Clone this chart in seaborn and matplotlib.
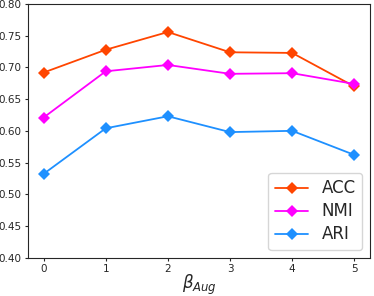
import matplotlib
matplotlib.use("Agg")
import matplotlib.pyplot as plt
import seaborn as sns
import pandas as pd

beta = [0, 1, 2, 3, 4, 5]
acc = [0.692, 0.728, 0.756, 0.724, 0.723, 0.670]
nmi = [0.621, 0.694, 0.704, 0.690, 0.691, 0.674]
ari = [0.532, 0.604, 0.623, 0.598, 0.600, 0.562]
metrics = ["ACC", "NMI", "ARI"]
colors = ["#FF4500", "#FF00FF", "#1E90FF"]

df = pd.DataFrame({
    "beta": beta * 3,
    "value": acc + nmi + ari,
    "metric": [m for m in metrics for _ in beta],
})

sns.set_style("ticks")
plt.rcParams["font.family"] = ["DejaVu Sans"]

fig = plt.figure(figsize=(3.74, 2.96), dpi=100)
ax = fig.add_axes([0.075, 0.13, 0.914, 0.856])

sns.lineplot(data=df, x="beta", y="value", hue="metric", style="metric",
             palette=dict(zip(metrics, colors)), markers=["D", "D", "D"],
             dashes=False, markersize=6.5, markeredgewidth=0, linewidth=1.3, ax=ax)

ax.set_ylim(0.40, 0.80)
ax.set_xticks(beta)
ax.set_yticks([0.40, 0.45, 0.50, 0.55, 0.60, 0.65, 0.70, 0.75, 0.80])
ax.tick_params(labelsize=7.5, length=2.5, pad=2)
ax.set_xlabel(r"$\beta_{Aug}$", fontsize=12, labelpad=-1)
ax.set_ylabel("")
ax.legend(loc="lower right", fontsize=12, handlelength=2.0, labelspacing=0.3,
          borderaxespad=0.45, handletextpad=0.8)

fig.savefig("out.png", dpi=100)
